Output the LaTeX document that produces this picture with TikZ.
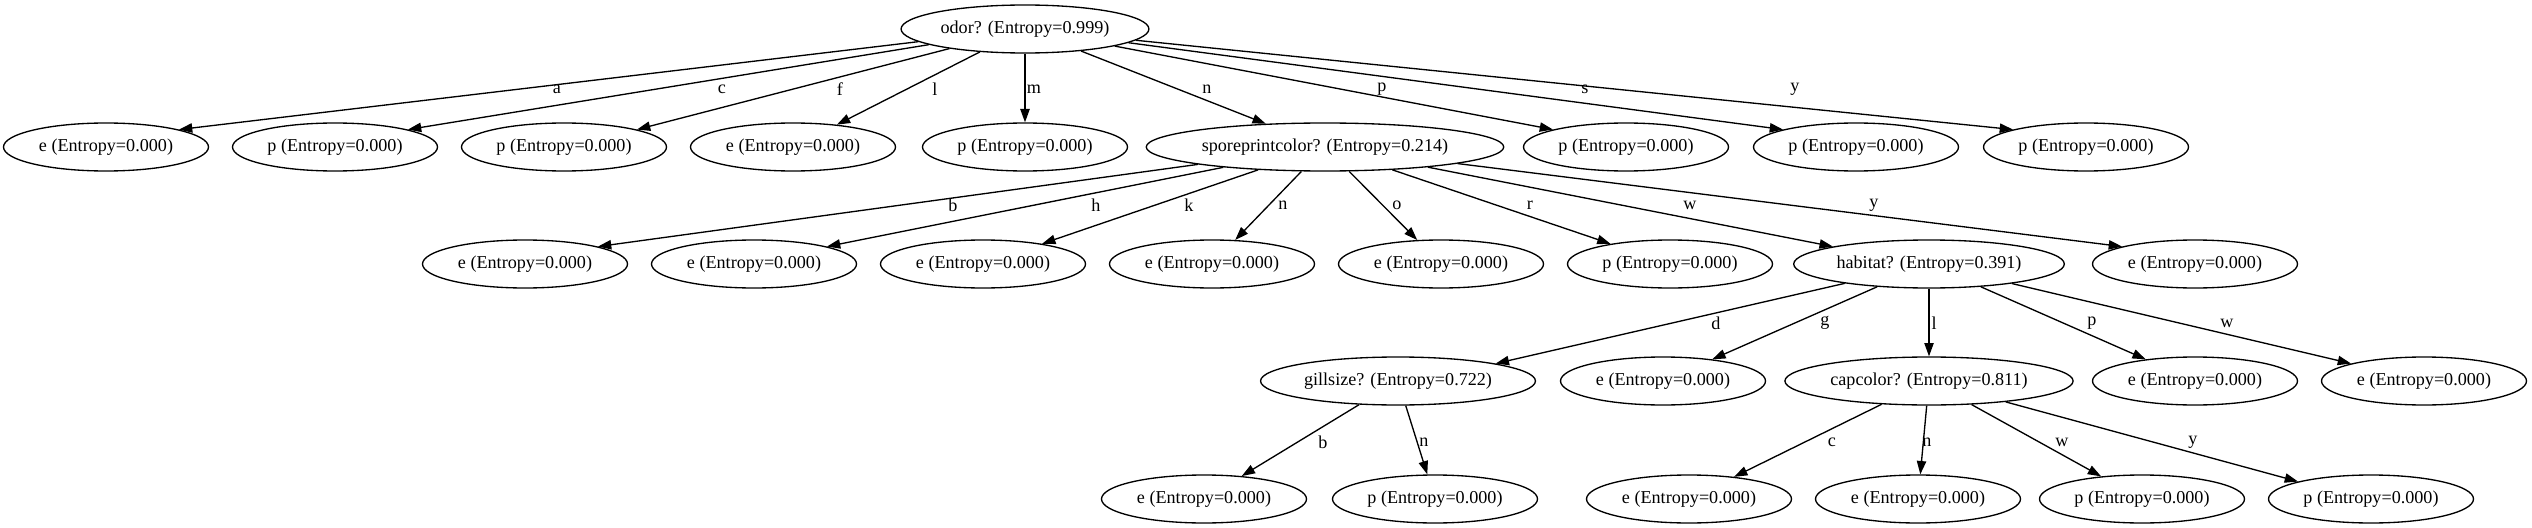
\documentclass[tikz,border=0pt]{standalone}
\usepackage{fontspec}
\setmainfont{Liberation Serif}
\usetikzlibrary{arrows.meta,shapes.geometric}
\tikzset{
  nbox/.style={draw, ellipse, line width=1pt, inner xsep=2.4pt, inner ysep=0pt,
               minimum height=36pt, font=\fontsize{13.6}{16}\selectfont},
  ntest/.style={nbox},
  nleaf/.style={nbox, minimum width=153.75pt},
  flow/.style={-{Triangle[length=10pt,width=7pt]}, line width=1pt},
  elab/.style={font=\fontsize{13.6}{16}\selectfont, inner sep=0pt},
}
\begin{document}
\begin{tikzpicture}[x=0.75pt, y=-0.75pt]
  \useasboundingbox (0,0) rectangle (2532,528);
  % root
  \node[ntest] (odor) at (1025,29) {odor? (Entropy=0.999)};
  % odor values
  \node[nleaf] (oa) at (106,147) {e (Entropy=0.000)};
  \node[nleaf] (oc) at (335,147) {p (Entropy=0.000)};
  \node[nleaf] (of) at (564,147) {p (Entropy=0.000)};
  \node[nleaf] (ol) at (793,147) {e (Entropy=0.000)};
  \node[nleaf] (om) at (1025,147) {p (Entropy=0.000)};
  \node[ntest] (spore) at (1325,147) {sporeprintcolor? (Entropy=0.214)};
  \node[nleaf] (op) at (1626,147) {p (Entropy=0.000)};
  \node[nleaf] (os) at (1856,147) {p (Entropy=0.000)};
  \node[nleaf] (oy) at (2086,147) {p (Entropy=0.000)};
  \draw[flow] (odor) -- (oa.north east) node[elab] at (557,89) {a};
  \draw[flow] (odor) -- (oc.north east) node[elab] at (722,89) {c};
  \draw[flow] (odor) -- (of.north east) node[elab] at (840,89) {f};
  \draw[flow] (odor) -- (ol) node[elab] at (935,89) {l};
  \draw[flow] (odor) -- (om) node[elab] at (1034,89) {m};
  \draw[flow] (odor) -- (spore) node[elab] at (1207,89) {n};
  \draw[flow] (odor) -- (op.north west) node[elab] at (1382,89) {p};
  \draw[flow] (odor) -- (os.north west) node[elab] at (1585,89) {s};
  \draw[flow] (odor) -- (oy.north west) node[elab] at (1795,89) {y};
  % sporeprintcolor values
  \node[nleaf] (sb) at (525,264) {e (Entropy=0.000)};
  \node[nleaf] (sh) at (754,264) {e (Entropy=0.000)};
  \node[nleaf] (sk) at (983,264) {e (Entropy=0.000)};
  \node[nleaf] (sn) at (1212,264) {e (Entropy=0.000)};
  \node[nleaf] (so) at (1441,264) {e (Entropy=0.000)};
  \node[nleaf] (sr) at (1670,264) {p (Entropy=0.000)};
  \node[ntest] (habitat) at (1929,264) {habitat? (Entropy=0.391)};
  \node[nleaf] (sy) at (2195,264) {e (Entropy=0.000)};
  \draw[flow] (spore) -- (sb.north east) node[elab] at (953,205) {b};
  \draw[flow] (spore) -- (sh.north east) node[elab] at (1096,205) {h};
  \draw[flow] (spore) -- (sk) node[elab] at (1189,205) {k};
  \draw[flow] (spore) -- (sn) node[elab] at (1283,205) {n};
  \draw[flow] (spore) -- (so) node[elab] at (1397,205) {o};
  \draw[flow] (spore) -- (sr) node[elab] at (1530,205) {r};
  \draw[flow] (spore) -- (habitat.north west) node[elab] at (1690,205) {w};
  \draw[flow] (spore) -- (sy.north west) node[elab] at (1874,205) {y};
  % habitat values
  \node[ntest] (gill) at (1398,381) {gillsize? (Entropy=0.722)};
  \node[nleaf] (hg) at (1663,381) {e (Entropy=0.000)};
  \node[ntest] (cap) at (1929,381) {capcolor? (Entropy=0.811)};
  \node[nleaf] (hp) at (2195,381) {e (Entropy=0.000)};
  \node[nleaf] (hw) at (2424,381) {e (Entropy=0.000)};
  \draw[flow] (habitat) -- (gill.north east) node[elab] at (1716,323) {d};
  \draw[flow] (habitat) -- (hg) node[elab] at (1825,323) {g};
  \draw[flow] (habitat) -- (cap) node[elab] at (1934,323) {l};
  \draw[flow] (habitat) -- (hp) node[elab] at (2092,323) {p};
  \draw[flow] (habitat) -- (hw.north west) node[elab] at (2227,323) {w};
  % gillsize and capcolor values
  \node[nleaf] (gb) at (1204,499) {e (Entropy=0.000)};
  \node[nleaf] (gn) at (1435,499) {p (Entropy=0.000)};
  \node[nleaf] (cc) at (1689,499) {e (Entropy=0.000)};
  \node[nleaf] (cn) at (1918,499) {e (Entropy=0.000)};
  \node[nleaf] (cw) at (2142,499) {p (Entropy=0.000)};
  \node[nleaf] (cy) at (2371,499) {p (Entropy=0.000)};
  \draw[flow] (gill) -- (gb) node[elab] at (1323,442) {b};
  \draw[flow] (gill) -- (gn) node[elab] at (1424,442) {n};
  \draw[flow] (cap) -- (cc) node[elab] at (1832,442) {c};
  \draw[flow] (cap) -- (cn) node[elab] at (1927,442) {n};
  \draw[flow] (cap) -- (cw) node[elab] at (2062,442) {w};
  \draw[flow] (cap) -- (cy.north west) node[elab] at (2193,442) {y};
\end{tikzpicture}
\end{document}
